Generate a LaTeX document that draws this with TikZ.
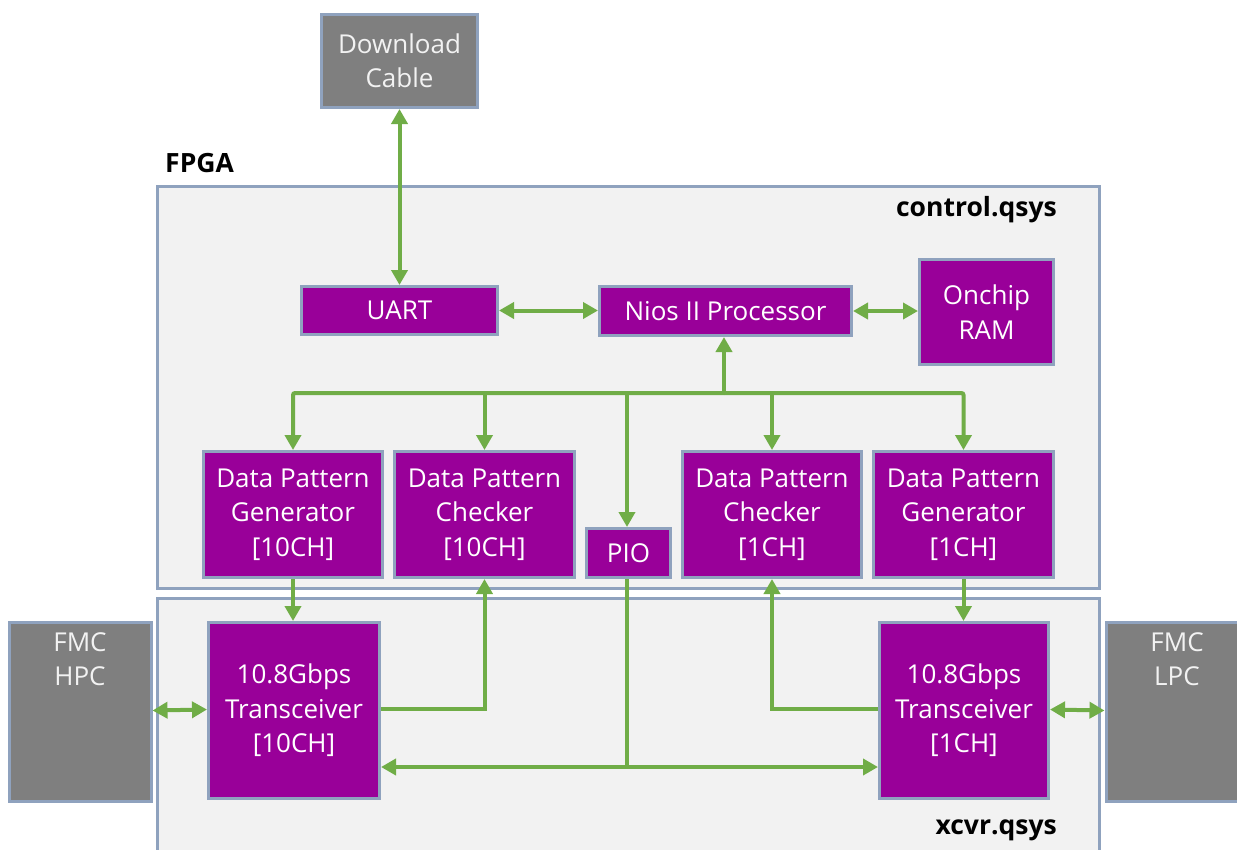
\documentclass[tikz,border=0pt]{standalone}
\usepackage{fontspec}
\setmainfont{Open Sans}
\usetikzlibrary{arrows.meta}
\definecolor{purp}{HTML}{990099}
\definecolor{bordc}{RGB}{143,162,190}
\definecolor{boxgray}{HTML}{7F7F7F}
\definecolor{panel}{HTML}{F2F2F2}
\definecolor{wire}{HTML}{70AD47}
\tikzset{
  blk/.style={draw=bordc, line width=3pt, fill=purp, text=white, align=center,
    inner sep=0pt, font=\fontsize{26}{34.5}\selectfont},
  ext/.style={draw=bordc, line width=3pt, fill=boxgray, text=panel, align=center,
    inner sep=0pt, font=\fontsize{26}{34}\selectfont},
  panelbox/.style={draw=bordc, line width=3pt, fill=panel, inner sep=0pt},
  tag/.style={font=\fontsize{26.5}{30}\selectfont\bfseries, inner sep=0pt},
  wireline/.style={draw=wire, line width=4pt},
  arr/.style={wireline, -{Triangle[length=15pt,width=16pt]}},
  bi/.style={wireline, {Triangle[length=15pt,width=16pt]}-{Triangle[length=15pt,width=16pt]}},
}
\begin{document}
\begin{tikzpicture}[x=1pt,y=-1pt]
\useasboundingbox (0,0) rectangle (1237,849);
\clip (0,0) rectangle (1237,849);

% subsystem panels
\node[panelbox, minimum width=942, minimum height=402] (ctrl) at (628,387) {};
\node[panelbox, minimum width=942, minimum height=272] (xcvr) at (628,734) {};
\node[tag, anchor=west] (fpga) at (165,163) {FPGA};
\node[tag, anchor=east] (ctrltag) at (1057,210) {control.qsys};
\node[tag, anchor=east] (xcvrtag) at (1057,830) {xcvr.qsys};

% external parts
\node[ext, minimum width=156, minimum height=93] (dl) at (399.5,61) {Download\\Cable};
\node[ext, minimum width=142, minimum height=179,
  label={[anchor=north, text=panel, align=center, font=\fontsize{26}{34}\selectfont, yshift=-9pt]north:FMC\\HPC}] (hpc) at (80,711.5) {};
\node[ext, minimum width=142, minimum height=179,
  label={[anchor=north, text=panel, align=center, font=\fontsize{26}{34}\selectfont, yshift=-9pt]north:FMC\\LPC}] (lpc) at (1177,711.5) {};

% control subsystem
\node[blk, minimum width=196, minimum height=48] (uart) at (399.5,310.5) {UART};
\node[blk, minimum width=252, minimum height=49] (nios) at (725.5,311) {Nios II Processor};
\node[blk, minimum width=134, minimum height=105] (ram) at (986.5,312) {Onchip\\RAM};
\node[blk, minimum width=179, minimum height=126] (dpg10) at (293,514.5) {Data Pattern\\Generator\\{[10CH]}};
\node[blk, minimum width=180, minimum height=126] (dpc10) at (484.5,514.5) {Data Pattern\\Checker\\{[10CH]}};
\node[blk, minimum width=84, minimum height=49] (pio) at (628.5,553) {PIO};
\node[blk, minimum width=179, minimum height=126] (dpc1) at (772,514.5) {Data Pattern\\Checker\\{[1CH]}};
\node[blk, minimum width=180, minimum height=126] (dpg1) at (963.5,514.5) {Data Pattern\\Generator\\{[1CH]}};

% transceiver subsystem
\node[blk, minimum width=171, minimum height=176] (tr10) at (294,710.5) {10.8Gbps\\Transceiver\\{[10CH]}};
\node[blk, minimum width=169, minimum height=176] (tr1) at (964,710.5) {10.8Gbps\\Transceiver\\{[1CH]}};

% junctions
\coordinate (bus) at (724,393);
\coordinate (pj) at (627,767);

% control links
\draw[bi] (dl.south) -- (uart.north);
\draw[bi] (uart.east) -- (uart.east -| nios.west);
\draw[bi] (nios.east) -- (nios.east -| ram.west);
\draw[arr] (bus) -- (bus |- nios.south);
\draw[arr, rounded corners=2pt] (bus) -| (dpg10.north);
\draw[arr] (bus) -| (dpc10.north);
\draw[arr] (bus) -| ([xshift=-1.5pt]pio.north);
\draw[arr] (bus) -| (dpc1.north);
\draw[arr, rounded corners=2pt] (bus) -| (dpg1.north);

% data path links
\draw[arr] (dpg10.south) -- (dpg10.south |- tr10.north);
\draw[arr] ([yshift=1.5pt]tr10.east) -| (dpc10.south);
\draw[arr] ([yshift=1.5pt]tr1.west) -| (dpc1.south);
\draw[arr] (dpg1.south) -- (dpg1.south |- tr1.north);
\draw[bi] (tr10.east |- pj) -- (tr1.west |- pj);
\draw[wireline] ([xshift=-1.5pt]pio.south) -- (pj);
\draw[bi] ([yshift=1pt]hpc.east) -- ([yshift=1pt]tr10.west);
\draw[bi] ([yshift=1pt]tr1.east) -- ([yshift=1pt]lpc.west);
\end{tikzpicture}
\end{document}
